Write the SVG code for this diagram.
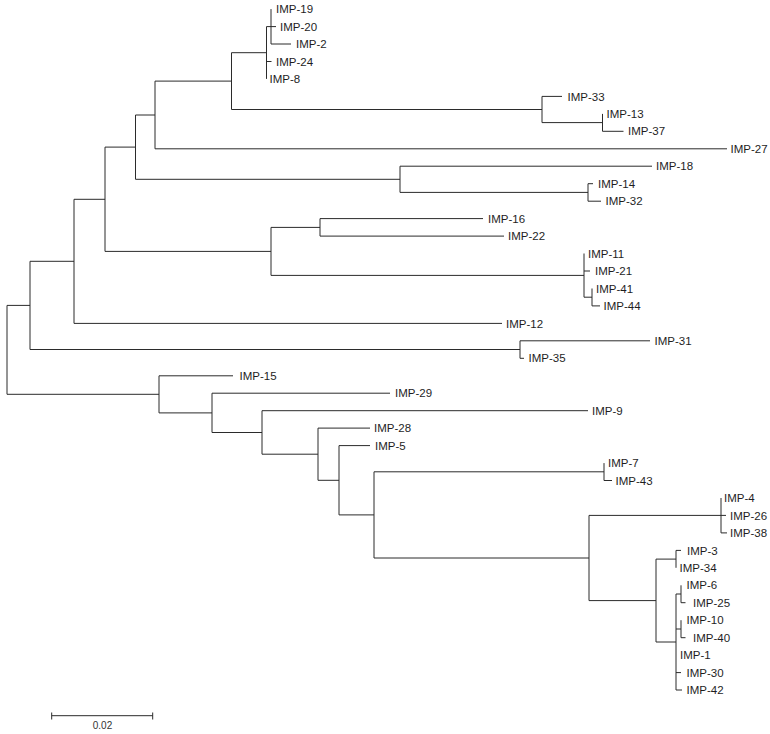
<svg xmlns="http://www.w3.org/2000/svg" width="770" height="734" viewBox="0 0 770 734">
<style>
.br{fill:none;stroke:#2b2b2b;stroke-width:1}
.lb{font-family:"Liberation Sans",Arial,sans-serif;font-size:11.5px;fill:#1e1e1e}
.sc{font-family:"Liberation Sans",Arial,sans-serif;font-size:10px;fill:#333;text-anchor:middle}
</style>
<rect width="770" height="734" fill="#fff"/>
<g id="connectors" class="br">
<path d="M7,305.4V394.3M7,305.4H30M7,394.3H159"/>
<path d="M30,261.3V349.5M30,261.3H74M30,349.5H520"/>
<path d="M74,199.3V323.4M74,199.3H105M74,323.4H502"/>
<path d="M105,147.1V251.4M105,147.1H135.5M105,251.4H271"/>
<path d="M135.5,115V179.3M135.5,115H155M135.5,179.3H400"/>
<path d="M155,81.1V148.8M155,81.1H231.5M155,148.8H727"/>
<path d="M231.5,52.7V109.5M231.5,52.7H266.5M231.5,109.5H542"/>
<path d="M266.5,26.6V78.9M266.5,26.6H271M266.5,61.5H271.5"/>
<path d="M271,9.1V44M271,26.6H276M271,44H291"/>
<path d="M542,96.4V122.6M542,96.4H562M542,122.6H602.5"/>
<path d="M602.5,113.9V131.3M602.5,131.3H623.5"/>
<path d="M400,166.2V192.4M400,166.2H652M400,192.4H588"/>
<path d="M588,183.7V201.2M588,183.7H593M588,201.2H601"/>
<path d="M271,227.4V275.4M271,227.4H320M271,275.4H584"/>
<path d="M320,218.6V236.1M320,218.6H483M320,236.1H504"/>
<path d="M584,253.5V297.2M584,271H590M584,297.2H592"/>
<path d="M592,288.5V305.9M592,305.9H600"/>
<path d="M520,340.8V358.3M520,340.8H650M520,358.3H524"/>
<path d="M159,375.8V412.9M159,375.8H233M159,412.9H212"/>
<path d="M212,393.2V432.5M212,393.2H390M212,432.5H262"/>
<path d="M262,410.7V454.2M262,410.7H588M262,454.2H318"/>
<path d="M318,428.1V480.3M318,428.1H370M318,480.3H339"/>
<path d="M339,445.6V514.9M339,445.6H370M339,514.9H374"/>
<path d="M374,471.8V558M374,471.8H604M374,558H589"/>
<path d="M604,463.1V480.5M604,480.5H612"/>
<path d="M589,515.4V600.6M589,515.4H721M589,600.6H656"/>
<path d="M721,498V532.9M721,515.4H726M721,532.9H727"/>
<path d="M656,559.1V642M656,559.1H676M656,642H676"/>
<path d="M676,550.4V567.8M676,550.4H681"/>
<path d="M676,594V690M676,594H681M676,629H681M676,672.6H681M676,690H682"/>
<path d="M681,585.3V602.7M681,602.7H685.5"/>
<path d="M681,620.2V637.7M681,637.7H685.5"/>
</g>
<g id="leaves" class="lb">
<g id="IMP-19"><text x="276" y="13.2">IMP-19</text></g>
<g id="IMP-20"><text x="280" y="30.7">IMP-20</text></g>
<g id="IMP-2"><text x="296" y="48.1">IMP-2</text></g>
<g id="IMP-24"><text x="276" y="65.6">IMP-24</text></g>
<g id="IMP-8"><text x="269.5" y="83">IMP-8</text></g>
<g id="IMP-33"><text x="567.5" y="100.5">IMP-33</text></g>
<g id="IMP-13"><text x="606.5" y="118">IMP-13</text></g>
<g id="IMP-37"><text x="628" y="135.4">IMP-37</text></g>
<g id="IMP-27"><text x="730.5" y="152.9">IMP-27</text></g>
<g id="IMP-18"><text x="656" y="170.3">IMP-18</text></g>
<g id="IMP-14"><text x="598" y="187.8">IMP-14</text></g>
<g id="IMP-32"><text x="605.5" y="205.3">IMP-32</text></g>
<g id="IMP-16"><text x="488" y="222.7">IMP-16</text></g>
<g id="IMP-22"><text x="508" y="240.2">IMP-22</text></g>
<g id="IMP-11"><text x="588" y="257.6">IMP-11</text></g>
<g id="IMP-21"><text x="595" y="275.1">IMP-21</text></g>
<g id="IMP-41"><text x="596" y="292.6">IMP-41</text></g>
<g id="IMP-44"><text x="603.5" y="310">IMP-44</text></g>
<g id="IMP-12"><text x="506" y="327.5">IMP-12</text></g>
<g id="IMP-31"><text x="654.5" y="344.9">IMP-31</text></g>
<g id="IMP-35"><text x="528.5" y="362.4">IMP-35</text></g>
<g id="IMP-15"><text x="239.5" y="379.9">IMP-15</text></g>
<g id="IMP-29"><text x="395" y="397.3">IMP-29</text></g>
<g id="IMP-9"><text x="592" y="414.8">IMP-9</text></g>
<g id="IMP-28"><text x="374" y="432.2">IMP-28</text></g>
<g id="IMP-5"><text x="375" y="449.7">IMP-5</text></g>
<g id="IMP-7"><text x="608" y="467.2">IMP-7</text></g>
<g id="IMP-43"><text x="615.5" y="484.6">IMP-43</text></g>
<g id="IMP-4"><text x="724" y="502.1">IMP-4</text></g>
<g id="IMP-26"><text x="730" y="519.5">IMP-26</text></g>
<g id="IMP-38"><text x="730" y="537">IMP-38</text></g>
<g id="IMP-3"><text x="687" y="554.5">IMP-3</text></g>
<g id="IMP-34"><text x="679.5" y="571.9">IMP-34</text></g>
<g id="IMP-6"><text x="686.5" y="589.4">IMP-6</text></g>
<g id="IMP-25"><text x="693" y="606.8">IMP-25</text></g>
<g id="IMP-10"><text x="686.5" y="624.3">IMP-10</text></g>
<g id="IMP-40"><text x="693" y="641.8">IMP-40</text></g>
<g id="IMP-1"><text x="680" y="659.2">IMP-1</text></g>
<g id="IMP-30"><text x="686.5" y="676.7">IMP-30</text></g>
<g id="IMP-42"><text x="686.5" y="694.1">IMP-42</text></g>
</g>
<g id="scale-bar">
<path class="br" d="M51.7,715.7H152.7M51.7,712.5V719.5M152.7,712.5V719.5" stroke="#444"/>
<text class="sc" x="102.5" y="729">0.02</text>
</g>
</svg>
